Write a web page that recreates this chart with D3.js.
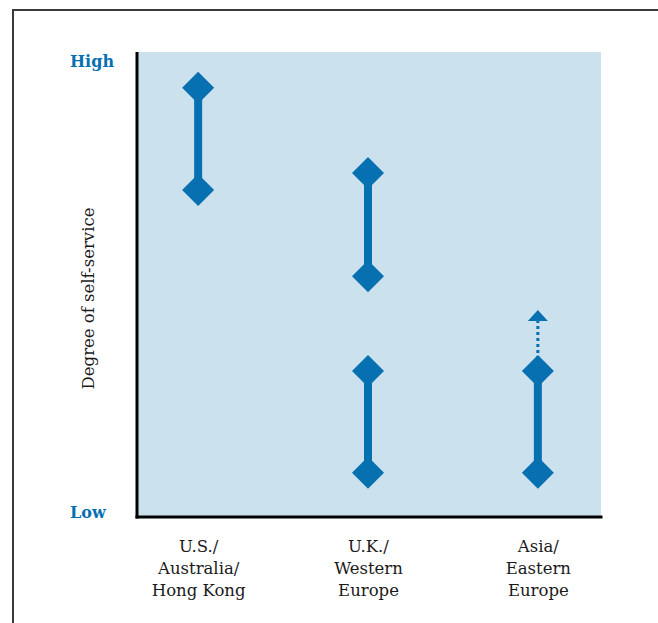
<!DOCTYPE html>
<html>
<head>
<meta charset="utf-8">
<script src="https://cdn.jsdelivr.net/npm/d3@7"></script>
<style>
body{margin:0;background:#fff}
svg{display:block}
</style>
</head>
<body>
<svg></svg>
<script>
// each line of a region label is its own entry
var regionLabels = [["U.S./","Australia/","Hong Kong"],["U.K./","Western","Europe"],["Asia/","Eastern","Europe"]]
var columns = ["US","UK","Asia"]

// ranges of self-service (0 = low, 100 = high)
var rangeColumn = ["US","UK","UK","Asia"]
var rangeLow = [70.3,51.8,9.5,9.5]
var rangeHigh = [92.3,74.0,31.4,31.4]

// the arrow on Asia points to where it is heading
var arrowColumn = ["Asia"]
var arrowFrom = [31.4]
var arrowTo = [44.5]

var yTickValues = [1.3,98.3]
var yTickLabels = ["Low","High"]

var screen = {width:658,height:623}
var margins = {top:52,right:57,left:137,bottom:106}
var blue = "#0670b1"

var svg = d3.select("svg")
    .attr("width",screen.width)
    .attr("height",screen.height)

var width = screen.width - margins.left - margins.right
var height = screen.height - margins.top - margins.bottom

// outer frame, only top and left show
svg.append("path")
   .attr("d","M13,623 L13,10 L658,10")
   .attr("fill","none")
   .attr("stroke","#3a3a3a")
   .attr("stroke-width",2)

var g = svg.append("g")
    .attr("transform","translate("+margins.left+","+margins.top+")")

var xScale = d3.scalePoint()
    .domain(columns)
    .range([0,width-2])
    .padding(0.36)
var yScale = d3.scaleLinear()
    .domain([0,100])
    .range([height,0])

g.append("rect")
 .attr("width",width)
 .attr("height",height)
 .attr("fill","#cce1ee")

// stems
var ranges = d3.range(rangeLow.length)
g.selectAll(".stem")
 .data(ranges)
 .enter()
 .append("line")
 .attr("x1",function(i){return xScale(rangeColumn[i])})
 .attr("x2",function(i){return xScale(rangeColumn[i])})
 .attr("y1",function(i){return yScale(rangeLow[i])})
 .attr("y2",function(i){return yScale(rangeHigh[i])})
 .attr("stroke",blue)
 .attr("stroke-width",8)

// dotted arrow
g.selectAll(".arrow")
 .data(d3.range(arrowFrom.length))
 .enter()
 .append("line")
 .attr("x1",function(i){return xScale(arrowColumn[i])})
 .attr("x2",function(i){return xScale(arrowColumn[i])})
 .attr("y1",function(i){return yScale(arrowFrom[i])})
 .attr("y2",function(i){return yScale(arrowTo[i])+10})
 .attr("stroke",blue)
 .attr("stroke-width",3)
 .attr("stroke-dasharray","3,3")

g.selectAll(".head")
 .data(d3.range(arrowTo.length))
 .enter()
 .append("path")
 .attr("d",function(i){
     var x = xScale(arrowColumn[i]), y = yScale(arrowTo[i])
     return "M"+x+","+y+" L"+(x+10)+","+(y+11)+" L"+(x-10)+","+(y+11)+"Z"
 })
 .attr("fill",blue)

// diamonds at both ends
var ends = []
ranges.forEach(function(i){
    ends.push({col:rangeColumn[i],v:rangeLow[i]})
    ends.push({col:rangeColumn[i],v:rangeHigh[i]})
})
var diamond = d3.symbol().type(d3.symbolSquare).size(2*16*16)
g.selectAll(".diamond")
 .data(ends)
 .enter()
 .append("path")
 .attr("d",diamond)
 .attr("transform",function(d){return "translate("+xScale(d.col)+","+yScale(d.v)+") rotate(45)"})
 .attr("fill",blue)

// axes
var xAxis = d3.axisBottom(xScale).tickSize(0).tickFormat("")
var yAxis = d3.axisLeft(yScale).tickValues(yTickValues).tickSize(0)
    .tickFormat(function(d,i){return yTickLabels[i]})

var xg = g.append("g")
 .attr("transform","translate(0,"+height+")")
 .call(xAxis)
xg.select(".domain").attr("stroke","#000").attr("stroke-width",3)
 .attr("d","M-1.5,0H"+(width+1.5))

var yg = g.append("g")
 .call(yAxis)
yg.select(".domain").attr("stroke","#000").attr("stroke-width",3)
 .attr("d","M0,"+(height+1.5)+"V0")
yg.selectAll("text")
 .attr("x",-67)
 .attr("dy","0.4em")
 .attr("text-anchor","start")
 .attr("fill",blue)
 .style("font-family","'DejaVu Serif', serif")
 .style("font-weight","bold")
 .style("font-size","16px")

// region labels under each column
xg.selectAll(".tick")
 .each(function(d,i){
     var t = d3.select(this).append("text")
        .attr("fill","#1a1a1a")
        .attr("text-anchor","middle")
        .style("font-family","'DejaVu Serif', serif")
        .style("font-size","16.5px")
     regionLabels[i].forEach(function(line,k){
         t.append("tspan").attr("x",0).attr("y",35+22*k).text(line)
     })
 })

// y axis title
svg.append("text")
 .attr("transform","translate(94,"+(margins.top+height/2+14)+") rotate(-90)")
 .attr("text-anchor","middle")
 .attr("fill","#1a1a1a")
 .style("font-family","'DejaVu Serif', serif")
 .style("font-size","16.5px")
 .text("Degree of self-service")
</script>
</body>
</html>
